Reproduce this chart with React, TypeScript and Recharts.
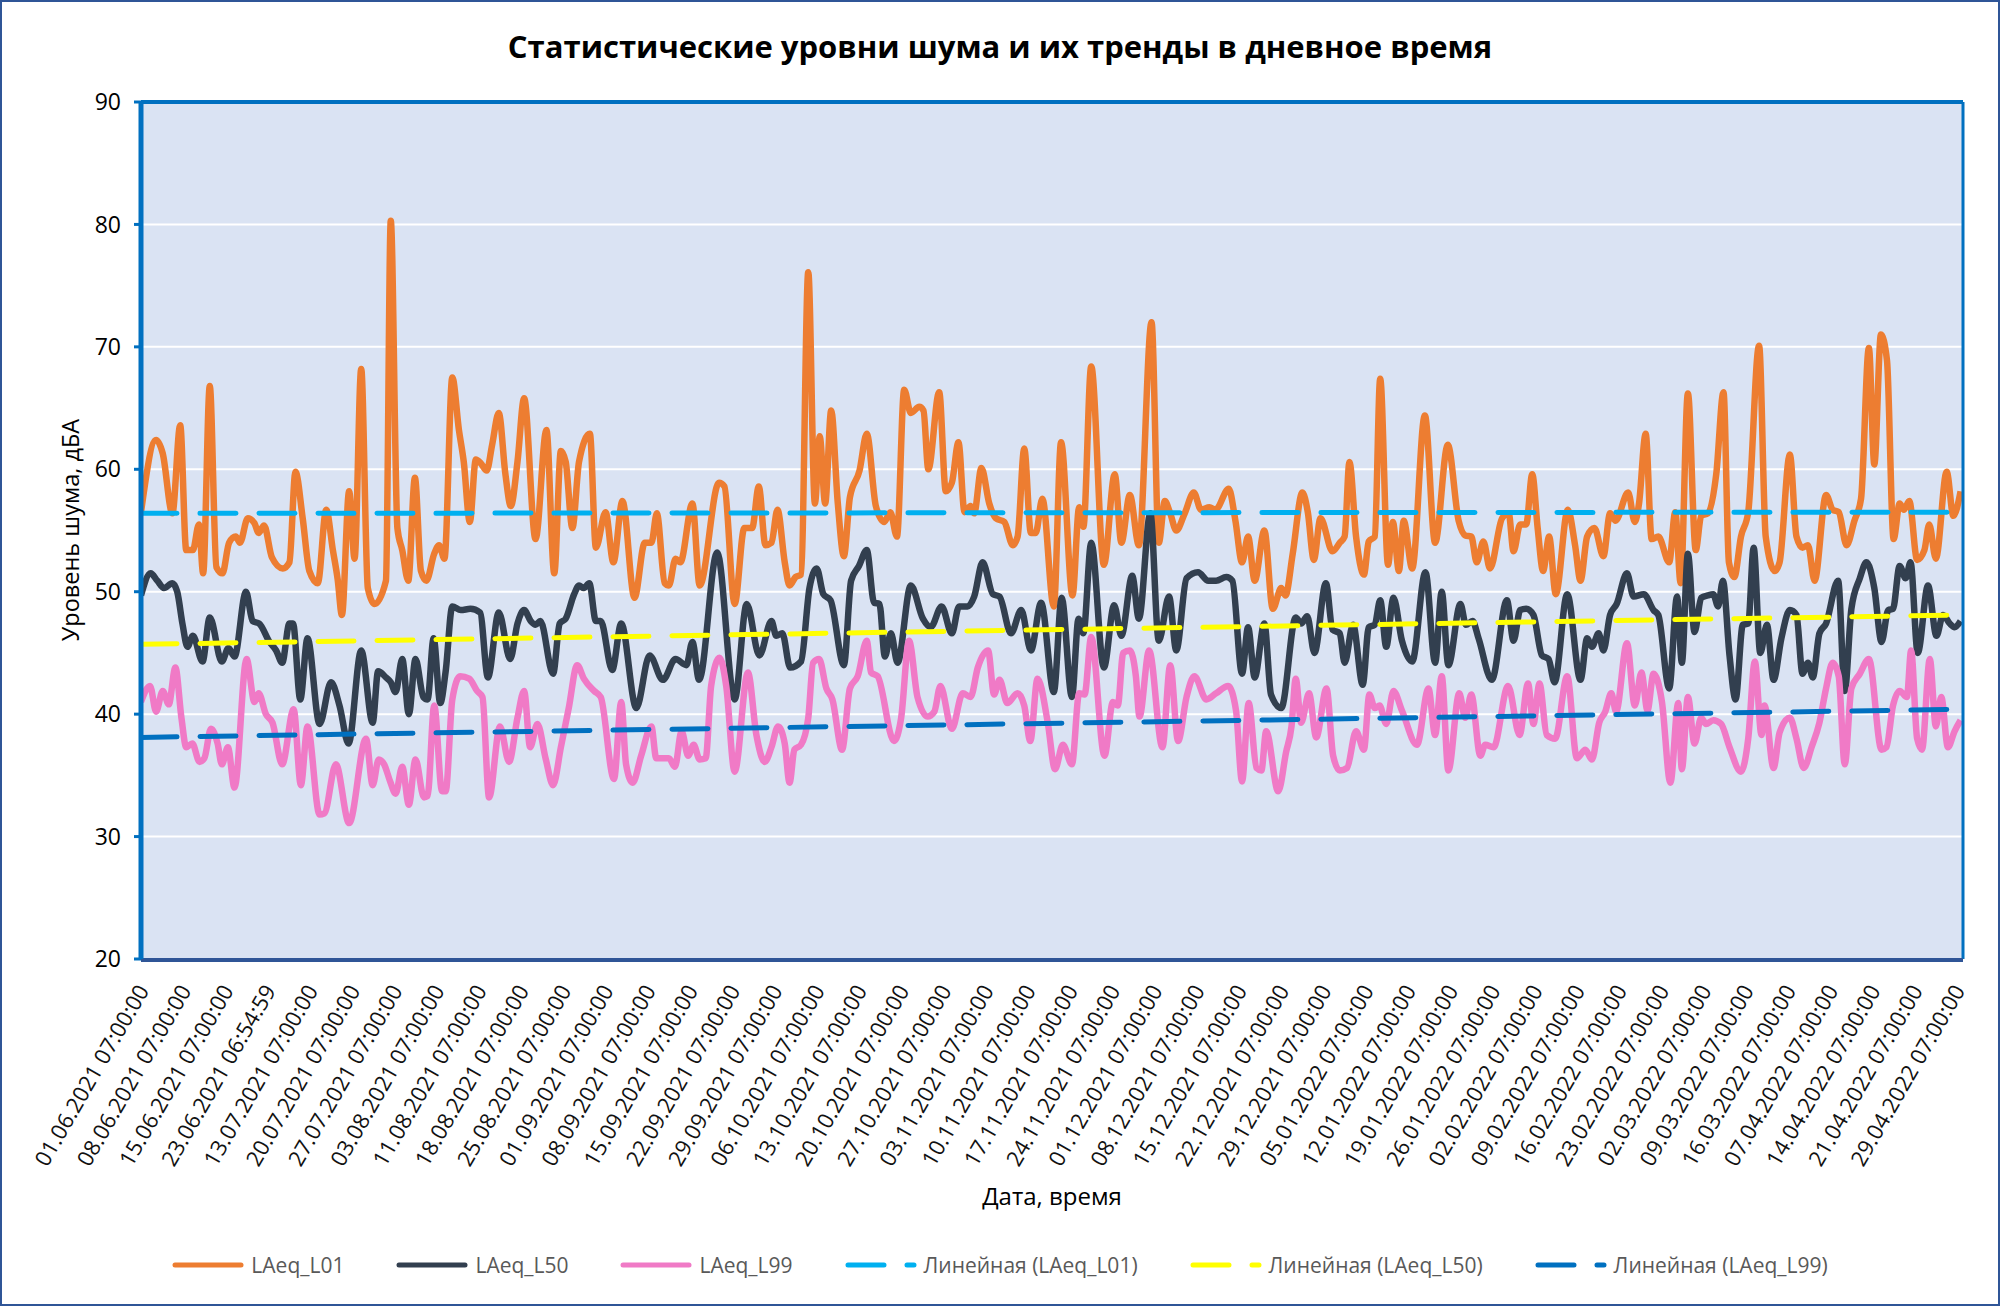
import React from "react";
import { CartesianGrid, Line, LineChart, ReferenceLine, XAxis, YAxis } from "recharts";

// sample index is the position on the category axis, 0..302
const dateLabels = [
  "01.06.2021 07:00:00", "08.06.2021 07:00:00", "15.06.2021 07:00:00", "23.06.2021 06:54:59",
  "13.07.2021 07:00:00", "20.07.2021 07:00:00", "27.07.2021 07:00:00", "03.08.2021 07:00:00",
  "11.08.2021 07:00:00", "18.08.2021 07:00:00", "25.08.2021 07:00:00", "01.09.2021 07:00:00",
  "08.09.2021 07:00:00", "15.09.2021 07:00:00", "22.09.2021 07:00:00", "29.09.2021 07:00:00",
  "06.10.2021 07:00:00", "13.10.2021 07:00:00", "20.10.2021 07:00:00", "27.10.2021 07:00:00",
  "03.11.2021 07:00:00", "10.11.2021 07:00:00", "17.11.2021 07:00:00", "24.11.2021 07:00:00",
  "01.12.2021 07:00:00", "08.12.2021 07:00:00", "15.12.2021 07:00:00", "22.12.2021 07:00:00",
  "29.12.2021 07:00:00", "05.01.2022 07:00:00", "12.01.2022 07:00:00", "19.01.2022 07:00:00",
  "26.01.2022 07:00:00", "02.02.2022 07:00:00", "09.02.2022 07:00:00", "16.02.2022 07:00:00",
  "23.02.2022 07:00:00", "02.03.2022 07:00:00", "09.03.2022 07:00:00", "16.03.2022 07:00:00",
  "07.04.2022 07:00:00", "14.04.2022 07:00:00", "21.04.2022 07:00:00", "29.04.2022 07:00:00",
];
const yTicks = [20, 30, 40, 50, 60, 70, 80, 90];
const LAST_SAMPLE = 302;

// [sample, dBA] (turning points)
const l01: [number, number][] = [
  [0, 56.5], [2.5, 62.4], [3.6, 61.3], [5.2, 56.4], [6.5, 63.6], [7.5, 53.4], [8.6, 53.4], [9.6, 55.5],
  [10.3, 51.5], [11.4, 66.8], [12.5, 52], [13.5, 51.5], [14.6, 54], [15.7, 54.5], [16.4, 54], [17.7, 56],
  [18.8, 55.6], [19.5, 54.8], [20.4, 55.4], [21.7, 52.8], [23.5, 51.9], [24.6, 52.4], [25.6, 59.8], [26.8, 56],
  [27.9, 51.7], [29.3, 50.7], [30.7, 56.7], [31.8, 53.4], [32.6, 51], [33.3, 48.1], [34.5, 58.2], [35.4, 52.7],
  [36.5, 68.2], [37.6, 50.3], [38.7, 49], [40.6, 50.9], [41.4, 80.3], [42.5, 55.2], [43.3, 53.4], [44.3, 50.9],
  [45.4, 59.3], [46.4, 51.7], [47.3, 50.9], [48.6, 53.1], [49.4, 53.8], [50.3, 52.7], [51.6, 67.5], [52.7, 63.2],
  [53.5, 60.6], [54.5, 55.7], [55.5, 60.8], [56.3, 60.5], [57.3, 59.9], [58.2, 62], [59.3, 64.6], [60.4, 59.6],
  [61.3, 57], [62.4, 60.6], [63.5, 65.8], [65.4, 54.3], [67.2, 63.2], [68.5, 51.5], [69.6, 61.5], [70.4, 60.6],
  [71.5, 55.2], [72.6, 60.6], [74.4, 62.9], [75.4, 53.6], [77, 56.5], [78.3, 52.4], [79.8, 57.4], [81.8, 49.5],
  [83.5, 54], [84.6, 54], [85.5, 56.4], [86.8, 50.7], [87.5, 50.5], [88.6, 52.7], [89.4, 52.4], [91.4, 57.2],
  [92.6, 50.5], [95.8, 58.9], [96.7, 58.6], [98.4, 49], [100, 55.2], [101.3, 55.2], [102.4, 58.6], [103.5, 53.8],
  [104.5, 54], [105.5, 56.7], [106.7, 52.4], [107.5, 50.5], [108.5, 51.2], [109.4, 51.4], [110.6, 76.1], [111.7, 57.2],
  [112.5, 62.7], [113.4, 57.2], [114.4, 64.8], [115.5, 57.2], [116.5, 52.9], [117.5, 57.7], [119.1, 59.9], [120.3, 62.9],
  [121.8, 57], [123.2, 55.7], [124.2, 56.5], [125.3, 54.5], [126.5, 66.5], [127.6, 64.6], [129, 65.1], [129.7, 64.8],
  [130.5, 60], [132.3, 66.3], [133.4, 58.2], [134.4, 58.9], [135.5, 62.2], [136.5, 56.5], [137.5, 57], [138.1, 56.4],
  [139.3, 60.1], [140.6, 57.2], [141.7, 56], [143.1, 55.7], [144.5, 53.8], [145.3, 54.5], [146.4, 61.7], [147.5, 54.8],
  [148.3, 54.8], [149.4, 57.6], [151.3, 48.8], [152.5, 62.2], [154.4, 49.7], [155.5, 56.9], [156.2, 55.3], [157.5, 68.4],
  [159.6, 52.2], [161.4, 59.6], [162.5, 54], [163.9, 57.9], [165.4, 53.8], [167.5, 72], [168.7, 54], [169.7, 57.4],
  [170.6, 56.4], [171.6, 55], [173, 56.4], [174.5, 58.1], [175.7, 56.7], [177.1, 56.9], [178.1, 56.7], [180.3, 58.4],
  [181.4, 55.8], [182.5, 52.4], [183.5, 54.5], [184.6, 50.9], [186.2, 55], [187.6, 48.6], [189, 50.3], [189.7, 49.7],
  [190.9, 53.1], [192.5, 58.1], [193.4, 56.5], [194.4, 52.6], [195.5, 56], [197.5, 53.3], [198.7, 54], [199.5, 54.5],
  [200.3, 60.6], [201.4, 54.5], [202.7, 51.4], [203.5, 54.1], [204.5, 54.5], [205.4, 67.4], [206.7, 52.2], [207.5, 55.7],
  [208.5, 51.7], [209.3, 55.8], [210.7, 51.9], [212.8, 64.4], [214.5, 54], [216.6, 62], [218.4, 55.8], [219.5, 54.6],
  [220.5, 54.5], [221.4, 52.4], [222.5, 54.1], [223.6, 51.9], [225.6, 56], [226.7, 56.4], [227.5, 53.3], [228.6, 55.5],
  [229.6, 55.5], [230.6, 59.6], [231.5, 55.2], [232.4, 51.7], [233.4, 54.5], [234.5, 49.8], [236.5, 56.7], [237.7, 53.8],
  [238.6, 50.9], [239.7, 54.5], [240.9, 55.2], [242.4, 52.9], [243.5, 56.4], [244.4, 55.8], [246.5, 58.1], [247.6, 55.7],
  [248.3, 57.2], [249.4, 62.9], [250.4, 54.3], [251.5, 54.5], [253.3, 52.4], [254.3, 56.5], [255.2, 50.7], [256.4, 66.2],
  [257.7, 53.4], [258.6, 56.2], [259.7, 56.4], [261.1, 59.6], [262.3, 66.3], [263.2, 52.4], [264.1, 51.2], [265.2, 54.5],
  [266.4, 56.5], [268.2, 70.1], [269.3, 54.5], [270.8, 51.7], [271.6, 52.4], [273.3, 61.2], [274.4, 54.5], [275.4, 53.6],
  [276.3, 53.8], [277.4, 50.9], [279.3, 57.9], [280.4, 56.7], [281.4, 56.5], [282.7, 53.8], [284, 55.8], [285.1, 57.6],
  [286.4, 69.9], [287.3, 60.4], [288.4, 71], [289.4, 68.9], [290.5, 54.3], [291.5, 57.2], [292.2, 56.7], [293.1, 57.4],
  [294.4, 52.6], [295.6, 53.4], [296.4, 55.5], [297.5, 52.7], [299.3, 59.8], [300.4, 56.2], [301.6, 58.2],
];

const l50: [number, number][] = [
  [0, 49.7], [1.6, 51.5], [2.7, 50.9], [3.8, 50.3], [5.2, 50.7], [6, 50], [6.9, 47.3], [7.7, 45.5],
  [8.6, 46.4], [10.2, 44.3], [11.4, 47.9], [13.4, 44.3], [14.5, 45.4], [15.5, 44.7], [17.4, 50], [18.5, 47.6],
  [19.6, 47.4], [21.3, 45.9], [22.4, 45.2], [23.4, 44.2], [24.6, 47.4], [25.2, 47.4], [26.4, 41.2], [27.6, 46.2],
  [29.6, 39.2], [31.5, 42.6], [32.9, 40.7], [34.4, 37.6], [36.5, 45.2], [38.4, 39.3], [39.3, 43.5], [40.6, 43],
  [41.4, 42.6], [42.2, 41.8], [43.3, 44.5], [44.4, 40], [45.5, 44.5], [46.8, 41.4], [47.5, 41.2], [48.5, 46.2],
  [49.6, 40.9], [50.5, 43.5], [51.6, 48.8], [53, 48.5], [54.6, 48.6], [56.2, 48.3], [57.5, 43], [59.3, 48.3],
  [61.2, 44.5], [62.4, 47.4], [63.5, 48.5], [64.6, 47.6], [65.4, 47.3], [66.2, 47.6], [68.3, 43.3], [69.4, 47.4],
  [70.4, 47.8], [71.8, 49.8], [72.6, 50.5], [73.4, 50.3], [74.3, 50.7], [75.4, 47.6], [76.2, 47.6], [78.1, 43.6],
  [79.6, 47.4], [82.1, 40.5], [84.3, 44.8], [86.5, 42.8], [88.6, 44.5], [90.4, 44], [91.4, 45.9], [92.5, 42.8],
  [95.5, 53.2], [98.4, 41.2], [100.4, 49], [102.5, 44.8], [104.5, 47.6], [105.3, 46.4], [106.3, 46.6], [107.6, 43.8],
  [109.4, 44.3], [110.8, 50.3], [112, 51.9], [113.1, 49.8], [114.3, 49.3], [116.5, 44], [117.7, 50.9], [119, 52.1],
  [120.3, 53.4], [121.5, 49.1], [122.4, 49], [123.3, 44.7], [124.3, 46.6], [125.4, 44.2], [127.6, 50.5], [129.6, 47.8],
  [130.9, 47.1], [132.7, 48.8], [134.4, 46.6], [135.6, 48.8], [137, 48.8], [138.1, 49.6], [139.5, 52.4], [141.2, 49.8],
  [142.3, 49.6], [144.2, 46.6], [145.9, 48.5], [147.5, 45.2], [149.2, 49.1], [151.3, 41.8], [152.6, 49.5], [154.3, 41.4],
  [155.4, 47.8], [156.2, 46.6], [157.5, 54], [159.6, 43.8], [161.3, 48.9], [162.5, 46.4], [164.3, 51.3], [165.4, 47.8],
  [167.3, 56.4], [168.7, 46], [170.4, 49.6], [171.6, 45.2], [173.3, 51.1], [175.2, 51.6], [176.9, 50.9], [178.2, 50.9],
  [179.9, 51.2], [180.9, 50.9], [182.5, 43.3], [183.5, 47.1], [184.6, 43], [186.2, 47.4], [187.3, 41.6], [189, 40.5],
  [191.4, 47.9], [192.3, 47.4], [193.3, 48], [194.5, 45], [196.4, 50.7], [197.5, 46.9], [198.7, 46.6], [199.5, 44.2],
  [200.9, 47.3], [202.5, 42.4], [203.5, 47.1], [204.5, 47.3], [205.4, 49.3], [206.4, 45.5], [207.6, 49.5], [209, 46],
  [210.7, 44.3], [212.9, 51.6], [214.5, 44.2], [215.6, 50], [216.7, 44], [218.7, 49], [219.6, 47.3], [220.7, 47.6],
  [221.7, 46.2], [223.9, 42.8], [226.4, 49.3], [227.5, 46], [228.6, 48.5], [229.6, 48.6], [230.8, 48.1], [232.2, 44.8],
  [233.3, 44.5], [234.3, 42.6], [236.4, 49.8], [238.6, 42.8], [239.7, 46.2], [240.5, 45.5], [241.6, 46.6], [242.4, 45.2],
  [243.5, 48.1], [244.6, 49], [246.3, 51.5], [247.4, 49.6], [249.1, 49.8], [250.7, 48.5], [251.5, 48.1], [253.3, 42.1],
  [254.6, 49.6], [255.4, 44.2], [256.4, 53.1], [257.5, 46.7], [258.6, 49.5], [259.7, 49.7], [260.6, 49.8], [261.4, 48.8],
  [262.2, 50.9], [263.3, 44.8], [264.3, 41.2], [265.5, 47.3], [266.4, 47.4], [267.3, 53.6], [268.4, 45], [269.5, 47.3],
  [270.6, 42.8], [271.9, 46.2], [273.3, 48.5], [274.4, 48.1], [275.4, 43.3], [276.3, 44.2], [277.1, 43], [278.2, 46.6],
  [279.3, 47.4], [281.3, 50.9], [282.4, 41.9], [283.5, 48.6], [284.9, 51.1], [286, 52.4], [287.3, 50.3], [288.5, 45.9],
  [289.6, 48.5], [290.4, 48.6], [291.5, 52.1], [292.5, 51.1], [293.3, 52.4], [294.5, 45], [296.2, 50.5], [297.6, 46.4],
  [298.7, 48.1], [299.8, 47.4], [300.6, 47.1], [301.6, 47.6],
];

const l99: [number, number][] = [
  [0, 41], [1.5, 42.3], [2.5, 40.2], [3.6, 41.9], [4.6, 40.8], [5.7, 43.8], [6.7, 39.7], [7.5, 37.3],
  [8.5, 37.6], [9.7, 36.1], [10.5, 36.4], [11.6, 38.8], [12.7, 37.6], [13.4, 35.9], [14.4, 37.3], [15.5, 34],
  [17.5, 44.5], [18.8, 41], [19.5, 41.7], [20.7, 40], [21.8, 39.3], [23.4, 35.9], [25.3, 40.4], [26.5, 34.2],
  [27.6, 39], [29.6, 31.8], [30.4, 31.9], [32.3, 35.9], [34.5, 31.1], [37.3, 38], [38.4, 34.2], [39.4, 36.3],
  [40.3, 35.9], [41.3, 34.5], [42.2, 33.5], [43.3, 35.7], [44.4, 32.6], [45.5, 36.3], [46.9, 33.2], [47.5, 33.3],
  [48.6, 40.7], [49.9, 33.7], [50.5, 33.7], [51.6, 41.2], [52.9, 43.1], [54.4, 42.9], [55.7, 41.9], [56.6, 41.4],
  [57.7, 33.2], [59.5, 39], [61, 36.1], [62.4, 39.7], [63.5, 41.9], [64.5, 37.3], [65.7, 39.2], [67.1, 36.3],
  [68.3, 34.2], [69.6, 37.3], [70.9, 40.5], [72.3, 44], [73.4, 42.9], [75.1, 41.9], [76.2, 41.4], [78.4, 34.7],
  [79.6, 41], [80.4, 35.9], [81.5, 34.4], [82.9, 36.6], [84.6, 39], [85.4, 36.4], [87.5, 36.4], [88.5, 35.7],
  [89.6, 38.6], [90.7, 36.6], [91.6, 37.5], [92.6, 36.3], [93.6, 36.4], [94.5, 42.3], [95.9, 44.6], [97, 42.3],
  [98.4, 35.3], [100.6, 43.4], [102, 38.3], [103.4, 36.1], [104.5, 37.3], [105.6, 39], [106.7, 37.6], [107.5, 34.4],
  [108.3, 37.1], [109.4, 37.5], [110.6, 39.7], [111.4, 44.2], [112.4, 44.5], [113.6, 42.1], [114.6, 41.2], [116.2, 37.1],
  [117.5, 42.1], [118.8, 43.1], [120.3, 46], [121, 43.4], [122.1, 43.1], [124.8, 37.8], [126, 39.7], [127.3, 46],
  [128.7, 41.4], [130.4, 39.8], [131.5, 40.2], [132.5, 42.3], [134.4, 38.8], [136.2, 41.7], [137.5, 41.4], [138.7, 43.8],
  [140.4, 45.2], [141.4, 41.6], [142.3, 42.8], [143.6, 40.9], [145.3, 41.7], [146.4, 40.7], [147.4, 37.8], [148.6, 42.9],
  [150.3, 39.3], [151.5, 35.5], [152.8, 37.5], [154.3, 35.9], [155.5, 41.7], [156.4, 41.6], [157.5, 46.3], [159.7, 36.6],
  [161.1, 41], [161.9, 40.7], [162.8, 45], [163.9, 45.2], [164.9, 43.1], [165.5, 39.8], [167.1, 45.2], [169.3, 37.3],
  [170.6, 44], [171.9, 37.8], [173.3, 41.4], [174.6, 43.1], [176.6, 41.2], [178.2, 41.7], [180.2, 42.3], [181.5, 40.3],
  [182.5, 34.5], [183.6, 40.9], [184.9, 35.6], [185.7, 35.4], [186.5, 38.6], [188.5, 33.7], [189.8, 36.9], [190.7, 39],
  [191.4, 42.9], [192.3, 39.3], [193.6, 41.7], [194.8, 38.1], [196.5, 42.1], [197.6, 36.6], [198.7, 35.4], [199.9, 35.6],
  [201.4, 38.6], [202.7, 37.1], [203.6, 41.6], [204.5, 40.5], [205.3, 40.7], [206.4, 39.2], [207.6, 41.9], [209, 40.3],
  [211.5, 37.5], [213.4, 42.1], [214.5, 38.3], [215.6, 43.1], [216.7, 35.4], [218.5, 41.7], [219.5, 39.7], [220.5, 41.6],
  [222, 36.6], [222.8, 37.5], [224.2, 37.3], [226.6, 42.3], [228.5, 38.3], [229.9, 42.5], [230.8, 39.2], [231.8, 42.5],
  [233, 38.3], [234.4, 38], [236.4, 43.1], [238, 36.4], [239.4, 37.1], [240.5, 36.3], [241.7, 39.3], [242.7, 40.2],
  [243.7, 41.7], [244.5, 40.2], [246.3, 45.8], [247.6, 40.7], [248.7, 43.4], [249.7, 40.3], [250.7, 43.3], [252.1, 41],
  [253.5, 34.4], [254.8, 40.9], [255.4, 35.5], [256.4, 41.4], [257.5, 37.6], [258.6, 39.7], [259.4, 39.2], [260.6, 39.5],
  [261.9, 39.2], [263.3, 37.3], [265.2, 35.3], [266.4, 38], [267.5, 44.3], [268.6, 38.3], [269.1, 40.7], [270.6, 35.6],
  [271.6, 38.5], [273.3, 39.7], [274.4, 38], [275.6, 35.6], [276.9, 37.3], [278.2, 39.3], [279.3, 42.1], [280.4, 44.2],
  [281.4, 43.1], [282.4, 35.9], [283.5, 42.1], [284.9, 43.3], [286.4, 44.5], [288.5, 37.1], [289.3, 37.3], [290.4, 40.7],
  [291.5, 41.9], [292.7, 41.4], [293.4, 45.2], [294.4, 38], [295.2, 37.1], [296.5, 44.5], [297.5, 39], [298.4, 41.4],
  [299.5, 37.3], [300.6, 38.6], [301.6, 39.5],
];

// linear trends: value at first and last sample
const trendL01: [number, number][] = [[0, 56.4], [LAST_SAMPLE, 56.5]];
const trendL50: [number, number][] = [[0, 45.7], [LAST_SAMPLE, 48.1]];
const trendL99: [number, number][] = [[0, 38.1], [LAST_SAMPLE, 40.4]];

const gridTicks = Array.from({ length: 31 }, (_, k) => k * 10);
const labelTicks = dateLabels.map((_, k) => k * 7);

const FONT = '"Open Sans", "Noto Sans", sans-serif';
const PLOT_BOTTOM = 959;
const DASH = "36 23";

const C = {
  l01: "#ED7D31",
  l50: "#323F4F",
  l99: "#F07AC6",
  t01: "#00B0F0",
  t50: "#FFFF00",
  t99: "#0070C0",
  axis: "#0070C0",
  axisBottom: "#2F5597",
  plot: "#DAE3F3",
};

const toRows = (pts: [number, number][]) => pts.map(([x, v]) => ({ x, v }));

const legendItems = [
  { name: "LAeq_L01", color: C.l01, dash: undefined },
  { name: "LAeq_L50", color: C.l50, dash: undefined },
  { name: "LAeq_L99", color: C.l99, dash: undefined },
  { name: "Линейная (LAeq_L01)", color: C.t01, dash: DASH },
  { name: "Линейная (LAeq_L50)", color: C.t50, dash: DASH },
  { name: "Линейная (LAeq_L99)", color: C.t99, dash: DASH },
];

// date labels are placed from the plot bottom, so the label axis itself can stay 1px tall
function DateTick(props: any) {
  const { x, payload } = props;
  const label = dateLabels[Math.round(payload.value / 7)];
  return (
    <text
      transform={`translate(${x + 1},${PLOT_BOTTOM + 27}) rotate(-60)`}
      textAnchor="end"
      dominantBaseline="central"
      fontSize={22}
      fontFamily={FONT}
      fill="#111"
    >
      {label}
    </text>
  );
}

export default function App() {
  return (
    <div style={{ position: "absolute", left: 0, top: 0, width: 2000, height: 1306, background: "#fff", fontFamily: FONT }}>
      <div
        style={{
          position: "absolute", left: 0, top: 25, width: 2000, textAlign: "center",
          fontSize: 31, fontWeight: 700, color: "#000",
        }}
      >
        Статистические уровни шума и их тренды в дневное время
      </div>

      <div
        style={{
          position: "absolute", left: 70, top: 530, transform: "translate(-50%, -50%) rotate(-90deg)",
          whiteSpace: "nowrap", fontSize: 23.5, color: "#000",
        }}
      >
        Уровень шума, дБА
      </div>

      <div
        style={{
          position: "absolute", left: 1052, top: 1195, transform: "translate(-50%, -50%)",
          whiteSpace: "nowrap", fontSize: 24, color: "#000",
        }}
      >
        Дата, время
      </div>

      <div style={{ position: "absolute", left: 0, top: 0 }}>
        <LineChart width={2000} height={1306} margin={{ top: 102, right: 37, bottom: 35, left: 0 }}>
          <CartesianGrid xAxisId="grid" fill={C.plot} fillOpacity={1} stroke="#FFFFFF" strokeWidth={2} />
          <XAxis
            xAxisId="date"
            dataKey="x"
            type="number"
            domain={[0, LAST_SAMPLE]}
            ticks={labelTicks}
            interval={0}
            tick={<DateTick />}
            tickLine={false}
            axisLine={false}
            height={1}
            allowDataOverflow
          />
          <XAxis
            xAxisId="grid"
            dataKey="x"
            type="number"
            domain={[0, LAST_SAMPLE]}
            ticks={gridTicks}
            interval={0}
            tick={false}
            tickSize={9}
            tickLine={{ stroke: C.axisBottom, strokeWidth: 4 }}
            axisLine={{ stroke: C.axisBottom, strokeWidth: 4 }}
            height={311}
            allowDataOverflow
          />
          <YAxis
            type="number"
            domain={[20, 90]}
            ticks={yTicks}
            interval={0}
            width={141}
            tickSize={7}
            tickMargin={13}
            tickLine={{ stroke: C.axis, strokeWidth: 3 }}
            axisLine={{ stroke: C.axis, strokeWidth: 5 }}
            tick={{ fontSize: 23, fill: "#000", fontFamily: FONT }}
            allowDataOverflow
          />
          <Line xAxisId="grid" data={toRows(l01)} dataKey="v" name="LAeq_L01" type="monotone" stroke={C.l01} strokeWidth={6.5} dot={false} activeDot={false} isAnimationActive={false} />
          <Line xAxisId="grid" data={toRows(l50)} dataKey="v" name="LAeq_L50" type="monotone" stroke={C.l50} strokeWidth={6.5} dot={false} activeDot={false} isAnimationActive={false} />
          <Line xAxisId="grid" data={toRows(l99)} dataKey="v" name="LAeq_L99" type="monotone" stroke={C.l99} strokeWidth={6.5} dot={false} activeDot={false} isAnimationActive={false} />
          <Line xAxisId="grid" data={toRows(trendL01)} dataKey="v" name="Линейная (LAeq_L01)" type="linear" stroke={C.t01} strokeWidth={5} strokeDasharray={DASH} strokeLinecap="round" dot={false} activeDot={false} isAnimationActive={false} />
          <Line xAxisId="grid" data={toRows(trendL50)} dataKey="v" name="Линейная (LAeq_L50)" type="linear" stroke={C.t50} strokeWidth={5} strokeDasharray={DASH} strokeLinecap="round" dot={false} activeDot={false} isAnimationActive={false} />
          <Line xAxisId="grid" data={toRows(trendL99)} dataKey="v" name="Линейная (LAeq_L99)" type="linear" stroke={C.t99} strokeWidth={5} strokeDasharray={DASH} strokeLinecap="round" dot={false} activeDot={false} isAnimationActive={false} />
          <ReferenceLine xAxisId="grid" y={90} stroke={C.axis} strokeWidth={4} />
          <ReferenceLine xAxisId="grid" x={LAST_SAMPLE} stroke={C.axis} strokeWidth={3} />
        </LineChart>
      </div>

      <div
        style={{
          position: "absolute", left: 0, width: 2000, top: 1247, height: 36,
          display: "flex", justifyContent: "center", alignItems: "center", gap: 52,
          fontSize: 21, color: "#595959",
        }}
      >
        {legendItems.map((item) => (
          <div key={item.name} style={{ display: "flex", alignItems: "center", gap: 7 }}>
            <svg width={72} height={10}>
              <line x1={3} y1={5} x2={69} y2={5} stroke={item.color} strokeWidth={5} strokeLinecap="round" strokeDasharray={item.dash} />
            </svg>
            <span>{item.name}</span>
          </div>
        ))}
      </div>

      <div style={{ position: "absolute", inset: 0, border: "2px solid #2F5597", pointerEvents: "none" }} />
    </div>
  );
}
